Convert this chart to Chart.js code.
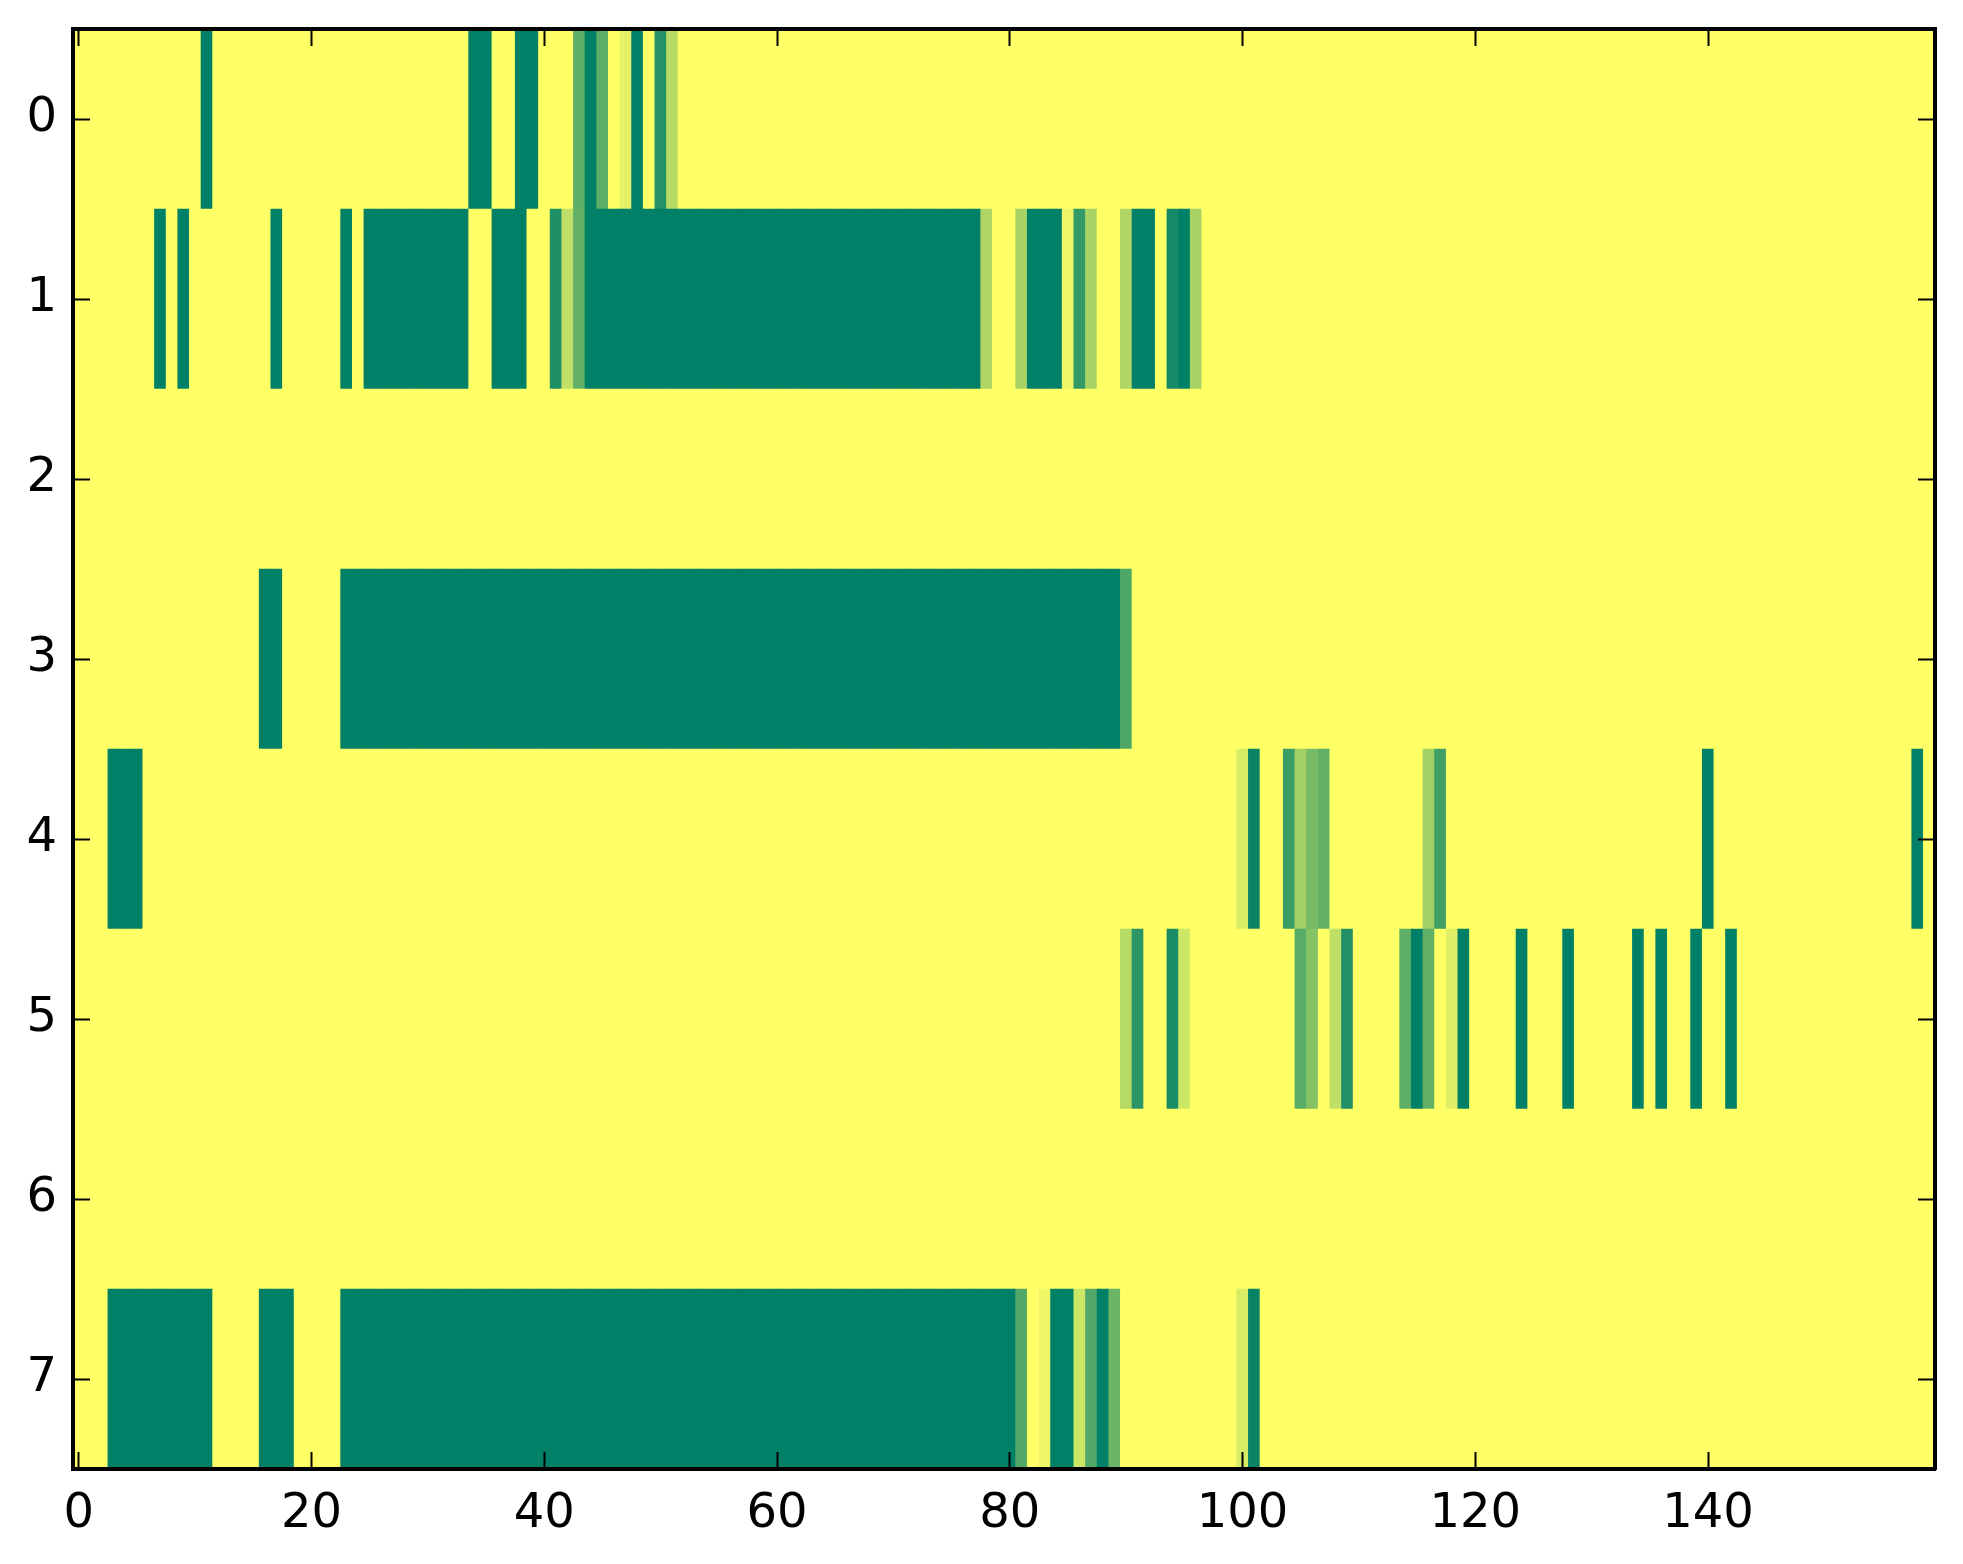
<!DOCTYPE html>
<html>
<head>
<meta charset="utf-8">
<script src="https://cdn.jsdelivr.net/npm/chart.js@4.4.1/dist/chart.umd.min.js"></script>
<style>
  html, body { margin: 0; padding: 0; background: #fff; }
  #wrap { width: 1963px; height: 1564px; }
</style>
</head>
<body>
<div id="wrap"><canvas id="heat"></canvas></div>
<script>
// row labels and x tick values
var rowLabels = ['0', '1', '2', '3', '4', '5', '6', '7'];
var xTicks = [0, 20, 40, 60, 80, 100, 120, 140];

// cell values per row, 160 columns each (0 = yellow, 1 = dark green)
var row0 = [
  0,0,0,0,0,0,0,0,0,0, 0,1,0,0,0,0,0,0,0,0,
  0,0,0,0,0,0,0,0,0,0, 0,0,0,0,1,1,0,0,1,1,
  0,0,0,0.63,1,0.63,0,0.1,1,0, 0.86,0.28,0,0,0,0,0,0,0,0,
  0,0,0,0,0,0,0,0,0,0, 0,0,0,0,0,0,0,0,0,0,
  0,0,0,0,0,0,0,0,0,0, 0,0,0,0,0,0,0,0,0,0,
  0,0,0,0,0,0,0,0,0,0, 0,0,0,0,0,0,0,0,0,0,
  0,0,0,0,0,0,0,0,0,0, 0,0,0,0,0,0,0,0,0,0,
  0,0,0,0,0,0,0,0,0,0, 0,0,0,0,0,0,0,0,0,0
];
var row1 = [
  0,0,0,0,0,0,0,1,0,1, 0,0,0,0,0,0,0,1,0,0,
  0,0,0,1,0,1,1,1,1,1, 1,1,1,1,0,0,1,1,1,0,
  0,0.88,0.25,0.62,1,1,1,1,1,1, 1,1,1,1,1,1,1,1,1,1,
  1,1,1,1,1,1,1,1,1,1, 1,1,1,1,1,1,1,1,0.31,0,
  0,0.34,1,1,1,0.07,0.8,0.34,0,0, 0.31,1,1,0,0.92,1,0.34,0,0,0,
  0,0,0,0,0,0,0,0,0,0, 0,0,0,0,0,0,0,0,0,0,
  0,0,0,0,0,0,0,0,0,0, 0,0,0,0,0,0,0,0,0,0,
  0,0,0,0,0,0,0,0,0,0, 0,0,0,0,0,0,0,0,0,0
];
var row2 = [
  0,0,0,0,0,0,0,0,0,0, 0,0,0,0,0,0,0,0,0,0,
  0,0,0,0,0,0,0,0,0,0, 0,0,0,0,0,0,0,0,0,0,
  0,0,0,0,0,0,0,0,0,0, 0,0,0,0,0,0,0,0,0,0,
  0,0,0,0,0,0,0,0,0,0, 0,0,0,0,0,0,0,0,0,0,
  0,0,0,0,0,0,0,0,0,0, 0,0,0,0,0,0,0,0,0,0,
  0,0,0,0,0,0,0,0,0,0, 0,0,0,0,0,0,0,0,0,0,
  0,0,0,0,0,0,0,0,0,0, 0,0,0,0,0,0,0,0,0,0,
  0,0,0,0,0,0,0,0,0,0, 0,0,0,0,0,0,0,0,0,0
];
var row3 = [
  0,0,0,0,0,0,0,0,0,0, 0,0,0,0,0,0,1,1,0,0,
  0,0,0,1,1,1,1,1,1,1, 1,1,1,1,1,1,1,1,1,1,
  1,1,1,1,1,1,1,1,1,1, 1,1,1,1,1,1,1,1,1,1,
  1,1,1,1,1,1,1,1,1,1, 1,1,1,1,1,1,1,1,1,1,
  1,1,1,1,1,1,1,1,1,1, 0.69,0,0,0,0,0,0,0,0,0,
  0,0,0,0,0,0,0,0,0,0, 0,0,0,0,0,0,0,0,0,0,
  0,0,0,0,0,0,0,0,0,0, 0,0,0,0,0,0,0,0,0,0,
  0,0,0,0,0,0,0,0,0,0, 0,0,0,0,0,0,0,0,0,0
];
var row4 = [
  0,0,0,1,1,1,0,0,0,0, 0,0,0,0,0,0,0,0,0,0,
  0,0,0,0,0,0,0,0,0,0, 0,0,0,0,0,0,0,0,0,0,
  0,0,0,0,0,0,0,0,0,0, 0,0,0,0,0,0,0,0,0,0,
  0,0,0,0,0,0,0,0,0,0, 0,0,0,0,0,0,0,0,0,0,
  0,0,0,0,0,0,0,0,0,0, 0,0,0,0,0,0,0,0,0,0,
  0.15,0.97,0,0,0.77,0.37,0.53,0.61,0,0, 0,0,0,0,0,0,0.37,0.75,0,0,
  0,0,0,0,0,0,0,0,0,0, 0,0,0,0,0,0,0,0,0,0,
  1,0,0,0,0,0,0,0,0,0, 0,0,0,0,0,0,0,0,1,0
];
var row5 = [
  0,0,0,0,0,0,0,0,0,0, 0,0,0,0,0,0,0,0,0,0,
  0,0,0,0,0,0,0,0,0,0, 0,0,0,0,0,0,0,0,0,0,
  0,0,0,0,0,0,0,0,0,0, 0,0,0,0,0,0,0,0,0,0,
  0,0,0,0,0,0,0,0,0,0, 0,0,0,0,0,0,0,0,0,0,
  0,0,0,0,0,0,0,0,0,0, 0.29,0.83,0,0,0.9,0.2,0,0,0,0,
  0,0,0,0,0,0.65,0.48,0,0.25,0.87, 0,0,0,0,0.63,1,0.62,0,0.12,1,
  0,0,0,0,1,0,0,0,1,0, 0,0,0,0,1,0,1,0,0,1,
  0,0,1,0,0,0,0,0,0,0, 0,0,0,0,0,0,0,0,0,0
];
var row6 = [
  0,0,0,0,0,0,0,0,0,0, 0,0,0,0,0,0,0,0,0,0,
  0,0,0,0,0,0,0,0,0,0, 0,0,0,0,0,0,0,0,0,0,
  0,0,0,0,0,0,0,0,0,0, 0,0,0,0,0,0,0,0,0,0,
  0,0,0,0,0,0,0,0,0,0, 0,0,0,0,0,0,0,0,0,0,
  0,0,0,0,0,0,0,0,0,0, 0,0,0,0,0,0,0,0,0,0,
  0,0,0,0,0,0,0,0,0,0, 0,0,0,0,0,0,0,0,0,0,
  0,0,0,0,0,0,0,0,0,0, 0,0,0,0,0,0,0,0,0,0,
  0,0,0,0,0,0,0,0,0,0, 0,0,0,0,0,0,0,0,0,0
];
var row7 = [
  0,0,0,1,1,1,1,1,1,1, 1,1,0,0,0,0,1,1,1,0,
  0,0,0,1,1,1,1,1,1,1, 1,1,1,1,1,1,1,1,1,1,
  1,1,1,1,1,1,1,1,1,1, 1,1,1,1,1,1,1,1,1,1,
  1,1,1,1,1,1,1,1,1,1, 1,1,1,1,1,1,1,1,1,1,
  1,0.68,0,0.06,1,1,0.2,0.68,1,0.58, 0,0,0,0,0,0,0,0,0,0,
  0.15,0.97,0,0,0,0,0,0,0,0, 0,0,0,0,0,0,0,0,0,0,
  0,0,0,0,0,0,0,0,0,0, 0,0,0,0,0,0,0,0,0,0,
  0,0,0,0,0,0,0,0,0,0, 0,0,0,0,0,0,0,0,0,0
];

var rows = [row0, row1, row2, row3, row4, row5, row6, row7];

// summer_r colour map: 0 -> #ffff66, 1 -> #008066
function summerR(v) {
  var r = Math.round(255 * (1 - v));
  var g = Math.round(255 * (1 - v / 2));
  return 'rgb(' + r + ',' + g + ',102)';
}

// one floating bar per cell
var cells = [];
var colors = [];
rows.forEach(function(vals, r) {
  vals.forEach(function(v, c) {
    cells.push({ x: [c - 0.5, c + 0.5], y: rowLabels[r] });
    colors.push(summerR(v));
  });
});

var ncols = row0.length;
var tickFont = { family: 'DejaVu Sans', size: 48 };

function setTicks(scale) {
  scale.ticks = xTicks.map(function(v) { return { value: v }; });
}

// fixed axis sizes so the plot box lands where the reference has it
function fixSize(w, h) {
  return function(s) {
    if (w !== null) s.width = w;
    if (h !== null) s.height = h;
    s.paddingTop = 0;
    s.paddingBottom = 0;
    s.paddingLeft = 0;
    s.paddingRight = 0;
  };
}

var markGrid = { drawOnChartArea: false, tickLength: -17, tickWidth: 2, tickColor: '#000', z: 1 };
var frame = { display: true, color: '#000', width: 4, z: 1 };

new Chart(document.getElementById('heat'), {
  type: 'bar',
  data: {
    labels: rowLabels,
    datasets: [{
      data: cells,
      backgroundColor: colors,
      borderWidth: 0,
      borderSkipped: false,
      barPercentage: 1,
      categoryPercentage: 1
    }]
  },
  options: {
    indexAxis: 'y',
    responsive: true,
    maintainAspectRatio: false,
    animation: false,
    layout: { padding: 0 },
    plugins: { legend: { display: false }, tooltip: { enabled: false } },
    scales: {
      x: {
        type: 'linear',
        position: 'bottom',
        min: -0.5,
        max: ncols - 0.5,
        afterBuildTicks: setTicks,
        afterFit: fixSize(null, 95),
        grid: markGrid,
        border: frame,
        ticks: { font: tickFont, color: '#000', padding: 34, maxRotation: 0, autoSkip: false }
      },
      x2: {
        type: 'linear',
        position: 'top',
        min: -0.5,
        max: ncols - 0.5,
        afterBuildTicks: setTicks,
        afterFit: fixSize(null, 29),
        grid: markGrid,
        border: frame,
        ticks: { display: false }
      },
      y: {
        type: 'category',
        position: 'left',
        offset: true,
        afterFit: fixSize(73, null),
        grid: Object.assign({}, markGrid, { offset: false }),
        border: frame,
        ticks: { font: tickFont, color: '#000', padding: 33 }
      },
      y2: {
        type: 'category',
        position: 'right',
        labels: rowLabels,
        offset: true,
        afterFit: fixSize(28, null),
        grid: Object.assign({}, markGrid, { offset: false }),
        border: frame,
        ticks: { display: false }
      }
    }
  }
});
</script>
</body>
</html>
